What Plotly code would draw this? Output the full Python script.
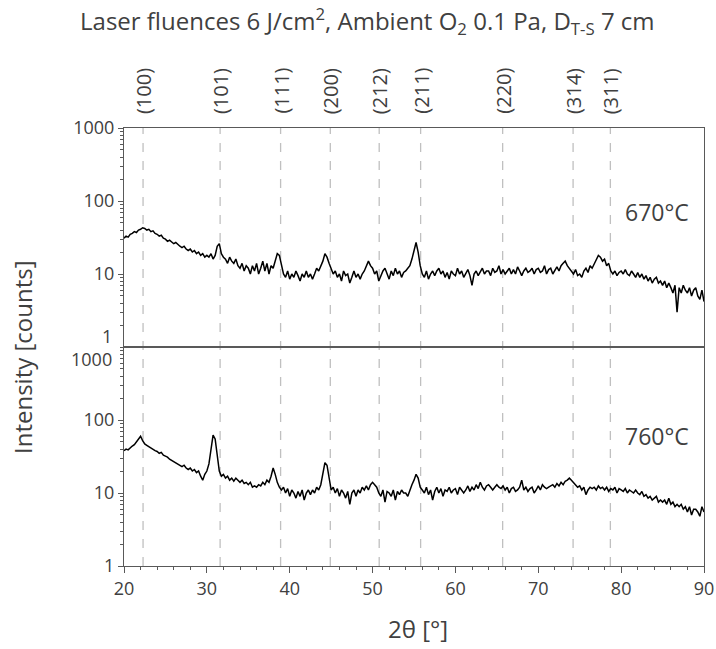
import plotly.graph_objects as go

# ---------------- data ----------------
two_theta_start = 20.0
two_theta_step = 0.25

intensity_670 = [
    31, 33, 32, 35,  36, 38, 37, 40,  41, 43, 42, 40,  41, 38, 39, 36,
    35, 33, 34, 31,  30, 28, 29, 27,  26, 27, 25, 24,  23, 24, 22, 21,
    22, 20, 21, 19,  20, 18, 19, 17,  18, 17, 19, 16,  18, 24, 26, 19,
    17, 16, 14, 17,  15, 14, 16, 13,  12, 14, 11, 13,  12, 10, 13, 11,
    14, 10, 12, 15,  11, 14, 10, 13,  12, 15, 19, 18,  14, 10, 9, 11,
    8.5, 10, 9, 11,  9.5, 8, 10, 9,  11, 9, 10, 8.5,  10, 12, 11, 13,
    15, 19, 17, 14,  12, 10, 11, 9,  10, 8, 11, 9.5,  10, 7.5, 9, 11,
    9, 10, 8.5, 10,  11, 13, 15, 13,  12, 10, 11, 8,  9.5, 11, 12, 10,
    8.5, 11, 9.5, 12,  10, 11, 9, 10.5,  11, 12, 13, 16,  22, 27, 20, 13,
    10, 9, 11, 8.5,  10, 11, 9.5, 11,  12, 10, 11, 9,  10.5, 8.5, 11, 10,
    9.5, 12, 10, 11,  9, 10, 11.5, 9.5,  7, 10, 11, 9.5,  10.5, 12, 10, 11,
    11, 9.5, 12, 10.5,  11, 13, 10, 11.5,  10, 11, 12, 10,  11.5, 10, 12.5, 11,
    9.5, 11, 12, 10.5,  11, 12, 10, 11.5,  12, 10.5, 11, 13,  10, 11.5, 12, 10,
    11, 12.5, 11, 13,  14, 15, 13, 12,  11, 10, 11.5, 9.5,  10, 9, 11, 12,
    10.5, 13, 12, 14,  16, 18, 17, 15,  16, 13, 14, 11,  10, 11, 9.5, 10.5,
    11, 10, 11.5, 10,  9.5, 11, 10, 9,  10.5, 9, 10, 8.5,  9.5, 8, 9, 7.5,
    8.5, 9, 7.5, 8,  7, 8, 6.5, 7.5,  6.5, 5.5, 7, 3,  6.5, 5.5, 7, 6,
    5.5, 6.5, 5, 6,  6.5, 5, 4.5, 6,  4.2,
]

intensity_760 = [
    38, 40, 39, 42,  44, 46, 50, 56,  60, 52, 47, 45,  43, 42, 40, 38,
    37, 35, 36, 33,  32, 31, 29, 28,  27, 26, 25, 24,  23, 24, 22, 21,
    22, 20, 21, 19,  20, 17, 15, 18,  20, 25, 38, 62,  55, 30, 20, 17,
    18, 16, 17, 15,  16, 14.5, 16, 15,  14, 15, 13.5, 14,  13, 14, 12, 12.5,
    12, 13, 12.5, 14,  13, 15, 14, 17,  22, 18, 14, 12,  11, 12, 10, 11.5,
    9, 11, 10, 8.5,  10.5, 9, 11, 8,  10, 11, 9.5, 11,  10, 12, 11, 13,
    18, 26, 24, 15,  11, 12, 10, 11.5,  9, 11, 10, 8.5,  10.5, 7, 10, 11,
    9, 11, 10, 12,  11, 12.5, 11, 13,  14, 13, 12, 10,  9, 11, 7.5, 10.5,
    10, 9, 11, 8,  10.5, 9.5, 11, 10,  10, 9, 11, 13,  15, 18, 16, 12,
    11, 10, 12, 9.5,  11, 8, 10.5, 12,  10, 11.5, 9, 11,  10.5, 12, 10, 11,
    11.5, 9.5, 12, 11,  10, 11, 12.5, 10.5,  12, 11, 13, 11.5,  14, 12, 11, 12.5,
    13, 12, 11, 12,  13, 12, 11.5, 12.5,  11, 12, 10, 11.5,  12, 10.5, 11, 12,
    15, 11, 12, 10.5,  11.5, 12, 10, 11,  12.5, 11, 13, 12,  11.5, 12, 12.5, 13,
    12, 13.5, 12.5, 14,  13, 14.5, 15, 16,  15, 14, 13, 12,  12.5, 11, 12, 9.5,
    11, 12, 11.5, 12,  11, 12.5, 11.5, 12,  11, 12, 10.5, 11.5,  11, 12, 10, 11.5,
    11, 10.5, 11.5, 10,  11, 10.5, 10, 11,  10, 9.5, 10.5, 9,  9.5, 8.5, 9, 8,
    8.5, 9, 7.5, 8,  7.5, 8, 7, 8.5,  7, 7.5, 6.5, 7,  6.5, 7, 6, 6.5,
    5.5, 6.5, 5, 6,  6, 5.5, 4.8, 6.5,  5.5,
]

peak_labels = ["(100)", "(101)", "(111)", "(200)", "(212)", "(211)", "(220)", "(314)", "(311)"]
peak_positions = [22.3, 31.6, 38.9, 44.9, 50.8, 55.8, 65.7, 74.2, 78.7]

temperature_labels = ["670°C", "760°C"]
x_ticks = [20, 30, 40, 50, 60, 70, 80, 90]
y_ticks_top = [10, 100, 1000]
y_ticks_bottom = [1, 10, 100]

two_theta = [two_theta_start + i * two_theta_step for i in range(len(intensity_670))]

# ---------------- figure ----------------
FONT = "Open Sans"
TXT = "#404040"
AX = "#595959"

fig = go.Figure()
fig.add_trace(go.Scatter(x=two_theta, y=intensity_670, mode="lines",
                         line=dict(color="black", width=1.5),
                         xaxis="x2", yaxis="y2", showlegend=False))
fig.add_trace(go.Scatter(x=two_theta, y=intensity_760, mode="lines",
                         line=dict(color="black", width=1.5),
                         xaxis="x", yaxis="y", showlegend=False))

shapes = []
for p in peak_positions:
    shapes.append(dict(type="line", xref="x", yref="paper", x0=p, x1=p, y0=0, y1=1,
                       line=dict(color="#c0c0c0", width=1.3, dash="dash"), layer="below"))

annotations = []
for lab, p in zip(peak_labels, peak_positions):
    annotations.append(dict(text=lab, x=p, xref="x", y=1, yref="paper", yshift=12,
                            textangle=-90, yanchor="bottom", xanchor="center",
                            showarrow=False, font=dict(size=20, color=TXT, family=FONT)))

annotations.append(dict(text=temperature_labels[0], x=0.978, xref="paper", y=0.808, yref="paper",
                        xanchor="right", yanchor="middle", showarrow=False,
                        font=dict(size=23, color=TXT, family=FONT)))
annotations.append(dict(text=temperature_labels[1], x=0.978, xref="paper", y=0.297, yref="paper",
                        xanchor="right", yanchor="middle", showarrow=False,
                        font=dict(size=23, color=TXT, family=FONT)))

# overlapping middle tick labels placed explicitly
annotations.append(dict(text="1", x=0, xref="paper", xshift=-10, y=0.5, yref="paper", yshift=11,
                        xanchor="right", yanchor="middle", showarrow=False,
                        font=dict(size=18, color=TXT, family=FONT)))
annotations.append(dict(text="1000", x=0, xref="paper", xshift=-10, y=0.5, yref="paper", yshift=-12,
                        xanchor="right", yanchor="middle", showarrow=False,
                        font=dict(size=18, color=TXT, family=FONT)))

# axis titles
annotations.append(dict(text="Intensity [counts]", x=0, xref="paper", xshift=-102, y=0.5, yref="paper",
                        yshift=-10, textangle=-90, xanchor="center", yanchor="middle", showarrow=False,
                        font=dict(size=24, color=TXT, family=FONT)))
annotations.append(dict(text="2θ [°]", x=0.5, xref="paper", xshift=4, y=0, yref="paper", yshift=-62,
                        xanchor="center", yanchor="middle", showarrow=False,
                        font=dict(size=24, color=TXT, family=FONT)))

minor_top = [1] + [m * 10 ** e for e in range(0, 3) for m in range(2, 10)]
minor_bottom = [m * 10 ** e for e in range(0, 3) for m in range(2, 10)] + [1000]


def yaxis_cfg(domain, anchor, ticks, minor_vals):
    return dict(domain=domain, anchor=anchor, type="log", range=[0, 3], tickvals=ticks,
                showgrid=False, automargin=False,
                showline=True, linecolor=AX, linewidth=1, mirror=True,
                ticks="outside", ticklen=5, tickcolor=AX,
                minor=dict(ticks="outside", ticklen=3, tickcolor=AX, tickvals=minor_vals),
                tickfont=dict(size=18, color=TXT, family=FONT), zeroline=False)


fig.update_layout(
    width=716, height=649,
    autosize=False,
    margin=dict(l=124, r=12, t=128, b=83, autoexpand=False),
    paper_bgcolor="white", plot_bgcolor="white",
    title=dict(text="Laser fluences 6 J/cm<sup>2</sup>, Ambient O<sub>2</sub> 0.1 Pa, D<sub>T-S</sub> 7 cm",
               x=0.513, xanchor="center", y=1 - 22 / 649, yanchor="middle", automargin=False,
               font=dict(size=24, color=TXT, family=FONT)),
    xaxis=dict(domain=[0, 1], anchor="y", range=[20, 90], tickvals=x_ticks, automargin=False,
               showgrid=False, showline=True, linecolor=AX, linewidth=1, mirror=True,
               ticks="outside", ticklen=6, tickcolor=AX,
               minor=dict(ticks="outside", ticklen=3, tickcolor=AX, dtick=2),
               tickfont=dict(size=18, color=TXT, family=FONT), zeroline=False),
    xaxis2=dict(domain=[0, 1], anchor="y2", matches="x", range=[20, 90], automargin=False,
                showticklabels=False, ticks="", showgrid=False,
                showline=True, linecolor=AX, linewidth=1, mirror=True, zeroline=False),
    yaxis=yaxis_cfg([0, 0.5], "x", y_ticks_bottom, minor_bottom),
    yaxis2=yaxis_cfg([0.5, 1], "x2", y_ticks_top, minor_top),
    shapes=shapes,
    annotations=annotations,
)

fig.write_html("out.html")
